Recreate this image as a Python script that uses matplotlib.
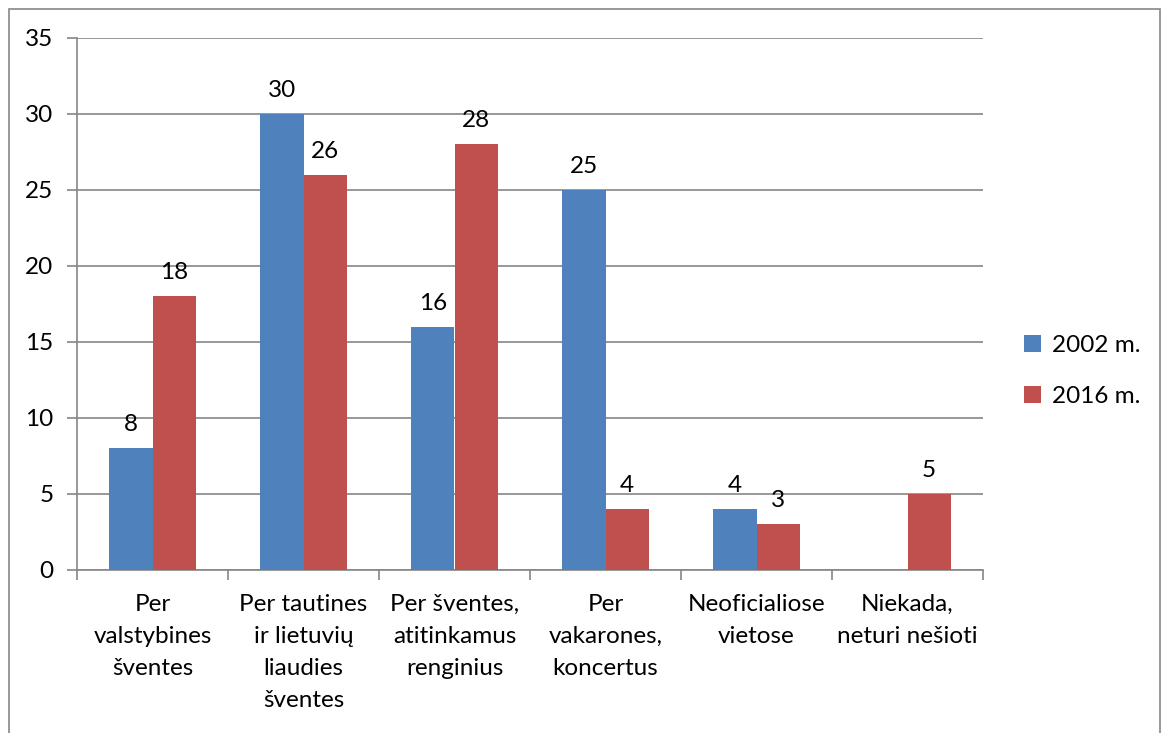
import matplotlib.pyplot as plt
import numpy as np
from matplotlib.patches import Rectangle

categories = ["Per\nvalstybines\nšventes", "Per tautines\nir lietuvių\nliaudies\nšventes",
              "Per šventes,\natitinkamus\nrenginius", "Per\nvakarones,\nkoncertus",
              "Neoficialiose\nvietose", "Niekada,\nneturi nešioti"]
series_names = ["2002 m.", "2016 m."]
values_2002 = [8, 30, 16, 25, 4, None]
values_2016 = [18, 26, 28, 4, 3, 5]
colors = ["#4f81bd", "#c0504d"]

plt.rcParams['font.family'] = ['Lato', 'DejaVu Sans']
grid_color = "#868686"
fs = 17.5

fig = plt.figure(figsize=(11.68, 7.33), dpi=100)
ax = fig.add_axes([77 / 1168, 163 / 733, 906 / 1168, 532 / 733])

x = np.arange(len(categories))
w = 0.285
for i, (vals, name, c) in enumerate(zip([values_2002, values_2016], series_names, colors)):
    xs = [xi for xi, v in zip(x, vals) if v is not None]
    vs = [v for v in vals if v is not None]
    offset = -w / 2 if i == 0 else w / 2
    bars = ax.bar(np.array(xs) + offset, vs, width=w, color=c, label=name, zorder=3)
    for b, v in zip(bars, vs):
        ax.text(b.get_x() + b.get_width() / 2, v + 0.85, str(v), ha='center', va='bottom', fontsize=fs)

ax.set_xlim(-0.5, len(categories) - 0.5)
ax.set_ylim(0, 35)
ax.set_yticks(range(0, 36, 5))
ax.yaxis.grid(True, color=grid_color, linewidth=1.2, zorder=0)
ax.set_axisbelow(True)
ax.tick_params(axis='y', labelsize=fs, length=7, color=grid_color, width=1.2, pad=10)

ax.set_xticks(np.arange(-0.5, len(categories), 1.0))
ax.set_xticklabels([])
ax.tick_params(axis='x', length=7, color=grid_color, width=1.2)
ax.set_xticks(x, minor=True)
ax.set_xticklabels(categories, minor=True, fontsize=fs, linespacing=1.65, va='top')
ax.tick_params(axis='x', which='minor', length=0, pad=17)

for s in ['top', 'right']:
    ax.spines[s].set_visible(False)
for s in ['left', 'bottom']:
    ax.spines[s].set_color(grid_color)
    ax.spines[s].set_linewidth(1.2)

leg = fig.legend(loc='center left', bbox_to_anchor=(1024 / 1168, 1 - 371 / 733), frameon=False,
                 fontsize=fs, handlelength=0.7, handleheight=0.7, labelspacing=1.2, handletextpad=0.45,
                 borderpad=0, borderaxespad=0)

fig.patches.append(Rectangle((9 / 1168, -0.1), 1151 / 1168, 1.1 - 9 / 733, transform=fig.transFigure,
                             fill=False, edgecolor=grid_color, linewidth=1.2))

fig.savefig("out.png")
